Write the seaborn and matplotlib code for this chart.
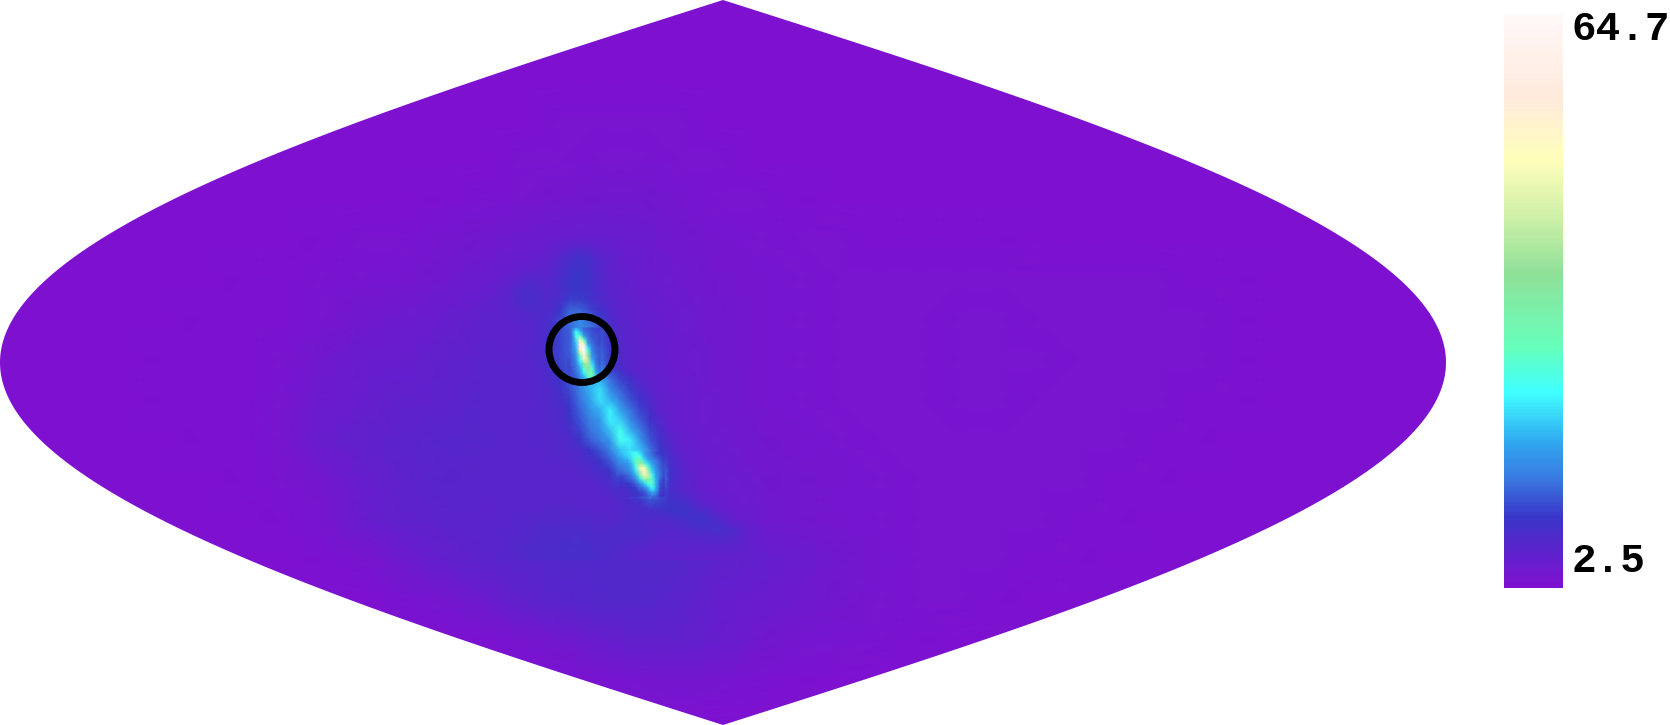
import numpy as np
import seaborn as sns
import matplotlib
matplotlib.use("Agg")
import matplotlib.pyplot as plt
from matplotlib.colors import LinearSegmentedColormap
from matplotlib.patches import Circle, PathPatch
from matplotlib.path import Path

W, H = 1670, 725
VMIN, VMAX = 0.0, 64.7
BG = 0.5
n = np.nan

# colour bar stops read from the strip on the right
cmap_stops = [0.0, 0.122, 0.188, 0.254, 0.34, 0.42, 0.55, 0.65, 0.75, 0.855, 1.0]
cmap_colors = ["#8010d0", "#3a35c8", "#3a78e0", "#30a8f0", "#40ffff", "#66ffbb",
               "#90e098", "#d0f0a8", "#ffffbb", "#ffeadc", "#fff8f8"]
tick_labels = ["64.7", "2.5"]

# whole sky, one node every 40 px
sky_rows = [
    [BG] * 38,
    [BG] * 38,
    [BG] * 38,
    [BG] * 14 + [.8, .9, .9, .8] + [BG] * 20,
    [BG] * 13 + [.8, 1, 1.2, 1.2, 1, .8] + [BG] * 19,
    [BG] * 11 + [.7, .9, 1.2, 1.6, 2, 1.8, 1.3, 1, .8, .7] + [BG] * 17,
    [BG] * 8 + [.7, .8, 1, 1.3, 1.8, 2.4, 3, 3.2, 2.6, 1.8, 1.3, 1.1, .9, .8, .7, .7, .7, .7] + [BG] * 12,
    [BG] * 6 + [.6, .7, .9, 1.2, 1.5, 2, 2.6, 3.2, 4, 4.5, 3.2, 2.2, 1.6, 1.3, 1.1, .9, .8, .8, .9, .9, .9, .9, .8, .8, .7, .7] + [BG] * 6,
    [BG] * 5 + [.6, .6, .7, 1.2, 1.9, 2.4, 3, 3.6, 4.5, 5, 3.6, 2.6, 2, 1.6, 1.3, 1.1, 1, .9, 1, 1.1, 1.1, 1, .9, .9, .8, .8, .7] + [BG] * 6,
    [BG] * 4 + [.6, .6, .7, .9, 2, 2.6, 3, 3.6, 4.2, 5, 5.5, 4.2, 2.8, 2.2, 1.7, 1.4, 1.2, 1, 1, 1, 1.1, 1.2, 1.1, 1, .9, .9, .8, .7] + [BG] * 6,
    [BG] * 4 + [.6, .6, .7, 1.2, 2.4, 3, 3.6, 4, 4.6, 5.5, 6, 4.6, 3, 2.4, 1.8, 1.5, 1.2, 1, 1, 1, 1.1, 1.1, 1, .9, .9, .8, .7, .6] + [BG] * 6,
    [BG] * 5 + [.6, .7, 1.2, 2.8, 3.6, 4.2, 4.6, 5, 5.5, 6, 5, 3.4, 2.6, 2, 1.6, 1.3, 1.1, 1, 1, 1, 1, .9, .9, .8, .7, .6] + [BG] * 7,
    [BG] * 6 + [.6, .9, 1.6, 3, 4, 4.6, 4.4, 5, 5.5, 6.5, 5.5, 3.6, 2.6, 2, 1.6, 1.3, 1.1, 1, 1, .9, .9, .8, .7, .6] + [BG] * 8,
    [BG] * 7 + [.7, 1.2, 2.6, 3.6, 4.2, 4.4, 4.4, 5.4, 6, 7, 5, 3, 2.2, 1.7, 1.3, 1.1, 1, .9, .9, .8, .7, .6] + [BG] * 9,
    [BG] * 8 + [.7, 1, 2.2, 3.4, 4.2, 4.6, 5.2, 5.5, 5.5, 5, 4, 3.4, 2.6, 1.8, 1.3, 1, .9, .8, .7, .6] + [BG] * 10,
    [BG] * 10 + [.8, 1.4, 2.4, 3.6, 4.6, 5.2, 5.2, 4.5, 3.2, 2.6, 2.2, 1.6, 1.1, .9, .8, .7] + [BG] * 12,
    [BG] * 12 + [.7, 1.2, 2, 3, 3.6, 3.6, 2.8, 1.8, 1.4, 1.1, .9, .7] + [BG] * 14,
    [BG] * 14 + [.7, 1, 1.4, 1.6, 1.4, 1, .7] + [BG] * 17,
    [BG] * 38,
    [BG] * 38,
]

# arc between the two bright spots, x 480-760, y 240-560, one node every 10 px
arc_rows = [
    [1.8, 2, 2.1, 2.2, 2.4, 2.5, 2.7, 2.8, 3, 3.1, 3.2, 3.1, 3, 2.8, 2.6, 2.5, 2.4, 2.2, 2, 1.9, 1.8, 1.7, 1.6, 1.5, 1.3, 1.3, 1.2, 1.2, 1.1],
    [2, 2.2, 2.4, 2.5, 2.6, 2.8, 3, 3.2, 4, 5, 5.5, 5, 4, 3.4, 3, 2.8, 2.6, 2.4, 2.2, 2, 1.9, 1.8, 1.7, 1.6, 1.4, 1.3, 1.3, 1.2, 1.1],
    [2.2, 2.4, 2.6, 2.8, 3, 3.2, 3.4, 3.8, 5, 6.4, 7, 6.4, 4.8, 3.8, 3.2, 3, 2.8, 2.5, 2.3, 2.1, 2, 1.9, 1.8, 1.6, 1.5, 1.4, 1.3, 1.3, 1.2],
    [2.3, 2.6, 2.8, 3, 3.4, 3.8, 4, 4.4, 5.6, 7, 7.6, 6.8, 5, 4, 3.4, 3.2, 2.9, 2.6, 2.4, 2.2, 2.1, 1.9, 1.8, 1.7, 1.5, 1.5, 1.4, 1.3, 1.2],
    [2.6, 2.8, 3.2, 3.6, 4.4, 5.2, 5, 4.8, 6, 7.6, 8, 7, 5.2, 4.2, 3.6, 3.3, 3, 2.8, 2.5, 2.3, 2.2, 2, 1.9, 1.8, 1.6, 1.6, 1.5, 1.4, 1.3],
    [3, 3.2, 3.6, 4.4, 5.6, 6, 5.4, 5, 6, 7.6, 8, 7, 5.4, 4.4, 3.8, 3.4, 3.2, 2.9, 2.6, 2.4, 2.3, 2.1, 2, 1.8, 1.7, 1.6, 1.5, 1.4, 1.4],
    [3.4, 3.6, 3.8, 4.4, 5.6, 6.2, 5.6, 5.2, 6.4, 8.5, 8.5, 7.4, 5.8, 4.6, 4, 3.6, 3.3, 3, 2.8, 2.5, 2.4, 2.2, 2.1, 1.9, 1.8, 1.7, 1.6, 1.5, 1.5],
    [3.6, 3.8, 4, 4.4, 5.2, 5.6, 5.4, 5.8, 8, 11, 11, 9, 7, 5.2, 4.2, 3.8, 3.4, 3.1, 2.9, 2.6, 2.4, 2.3, 2.1, 2, 1.8, 1.7, 1.6, 1.6, 1.5],
    [3.8, 4, 4, 4.2, 4.6, 5, 5.4, 6.5, 9, 12, 14, 11, 8.5, 6, 4.4, 4, 3.5, 3.2, 3, 2.7, 2.5, 2.3, 2.2, 2, 1.9, 1.8, 1.7, 1.6, 1.5],
    [4, 4, 4, 4, 4.2, 4.6, 5.2, 7, 9, 11, 14, 13, 10, 7, 5, 4, 3.6, 3.3, 3, 2.8, 2.5, 2.4, 2.2, 2, 1.9, 1.8, 1.7, 1.6, 1.5],
    [4.2, 4.2, 4, 4, 4.4, 4.8, 5.4, 7, 9, 11, 15, 14, 10, 7, 5, 4.2, 3.7, 3.4, 3, 2.8, 2.6, 2.4, 2.2, 2.1, 1.9, 1.8, 1.7, 1.6, 1.4],
    [4.4, 4.4, 4.2, 4.2, 4.4, 5, 5.5, 7, 9, 11, 15, 16, 11, 8, 5.2, 4.4, 3.8, 3.4, 3.2, 2.9, 2.6, 2.4, 2.3, 2.1, 2, 1.8, 1.7, 1.6, 1.4],
    [4.6, 4.4, 4.2, 4.2, 4.4, 5, 5.5, 7, 9, 10.5, 14, 18, 12, 8, 5.4, 4.4, 3.9, 3.5, 3.2, 2.9, 2.7, 2.5, 2.3, 2.1, 2, 1.9, 1.7, 1.6, 1.4],
    [4.6, 4.4, 4.4, 4.4, 4.6, 4.8, 5.2, 6.5, 8.5, 10, 13, 19, 14, 9, 6.5, 4.8, 4, 3.6, 3.3, 3, 2.7, 2.5, 2.3, 2.2, 2, 1.9, 1.8, 1.6, 1.5],
    [4.6, 4.6, 4.4, 4.4, 4.6, 4.8, 5, 6, 8, 10, 13, 18, 17, 12, 9, 7, 5, 3.8, 3.4, 3, 2.8, 2.6, 2.4, 2.2, 2, 1.9, 1.8, 1.7, 1.5],
    [4.6, 4.6, 4.4, 4.4, 4.6, 4.8, 5, 5.5, 7, 9.5, 13, 17, 20, 14, 11, 8.5, 6, 4.4, 3.5, 3.1, 2.8, 2.6, 2.4, 2.2, 2.1, 2, 1.8, 1.7, 1.5],
    [4.6, 4.6, 4.4, 4.4, 4.4, 4.6, 5, 5.2, 6.5, 8.5, 12, 16, 20, 17, 13, 10, 7.5, 5.4, 3.6, 3.2, 2.9, 2.7, 2.4, 2.3, 2.1, 2, 1.8, 1.7, 1.5],
    [4.8, 4.6, 4.6, 4.4, 4.4, 4.6, 4.8, 5.2, 5.8, 8, 11, 14.5, 17, 21, 16, 12, 9, 6.2, 4, 3.3, 3, 2.7, 2.5, 2.3, 2.1, 2, 1.9, 1.7, 1.6],
    [4.8, 4.8, 4.6, 4.4, 4.4, 4.6, 4.8, 5.2, 5.6, 7.5, 10, 13, 15, 21, 19, 14, 10.5, 7.5, 5.2, 3.4, 3, 2.7, 2.5, 2.3, 2.2, 2, 1.9, 1.8, 1.6],
    [4.8, 4.8, 4.6, 4.4, 4.4, 4.6, 4.8, 5, 5.4, 6.5, 9, 12, 14, 18, 23, 17, 12.5, 9, 6, 3.6, 3.1, 2.8, 2.6, 2.4, 2.2, 2.1, 1.9, 1.8, 1.7],
    [5, 4.8, 4.8, 4.6, 4.6, 4.8, 5, 5, 5.2, 5.8, 8, 10.5, 12.5, 15, 23, 21, 15, 10, 7, 5, 3.4, 3, 2.7, 2.5, 2.3, 2.1, 2, 1.9, 1.8],
    [4.8, 4.6, 4.6, 4.4, 4.4, 4.6, 4.8, 5, 5.2, 5.2, 6, 8, 10, 13, 18, 20, 18, 12, 8, 5.5, 3.8, 3.2, 2.9, 2.6, 2.4, 2.2, 2.1, 2, 1.9],
    [4.6, 4.4, 4.4, 4.4, 4.4, 4.4, 4.6, 4.8, 5, 5, 5.4, 6.5, 8, 10.5, 15, 22, 26, 16, 10, 6.5, 4.4, 3.4, 3, 2.7, 2.5, 2.3, 2.1, 2, 1.9],
    [4.4, 4.4, 4.4, 4.4, 4.4, 4.4, 4.4, 4.6, 4.8, 4.8, 5, 5.4, 6.5, 8, 12, 20, 30, 25, 13, 7.5, 5, 3.6, 3.1, 2.8, 2.6, 2.4, 2.2, 2.1, 2],
    [4.4, 4.4, 4.4, 4.4, 4.4, 4.4, 4.4, 4.4, 4.6, 4.6, 4.6, 4.8, 5.5, 6.5, 9, 13, 20, 24, 14, 7, 5, 3.8, 3.2, 2.9, 2.6, 2.4, 2.3, 2.2, 2.1],
    [4.4, 4.4, 4.4, 4.4, 4.4, 4.4, 4.4, 4.6, 4.6, 4.6, 4.6, 4.6, 4.8, 5.5, 7, 9, 12, 18, 10, 6.5, 5, 4, 3.4, 3, 2.7, 2.5, 2.4, 2.3, 2.2],
    [4.2, 4.2, 4.4, 4.4, 4.4, 4.6, 4.6, 4.8, 4.8, 4.8, 4.6, 4.6, 4.6, 4.8, 5.5, 6, 7.5, 10, 9, 7.5, 6.5, 5.5, 3.8, 3.2, 2.9, 2.6, 2.5, 2.4, 2.4],
    [4.2, 4.2, 4.4, 4.6, 4.6, 4.8, 4.8, 5, 5, 5, 5, 4.8, 4.6, 4.8, 5, 5.5, 6, 6.5, 7, 7.5, 8, 7, 6, 5, 3.4, 2.8, 2.6, 2.6, 2.6],
    [4.2, 4.4, 4.6, 4.6, 4.8, 5, 5.2, 5.2, 5.2, 5.4, 5.4, 5.2, 5, 5, 5.2, 5.6, 5.6, 5.2, 5.2, 5.6, 6.5, 7, 7.5, 6.5, 5.5, 3.6, 2.8, 2.8, 2.8],
    [4.4, 4.6, 4.8, 4.8, 5, 5.2, 5.4, 5.6, 5.6, 5.8, 6, 5.8, 5.4, 5.4, 5.8, 6, 5.8, 5.4, 5, 4.8, 5, 5.4, 6, 6.5, 6.5, 6, 5, 3.4, 3],
    [4.4, 4.6, 4.8, 5, 5.2, 5.4, 5.6, 5.8, 6, 6.2, 6.2, 6, 5.8, 5.6, 5.8, 5.8, 5.6, 5, 4.6, 4.4, 4.6, 4.6, 4.6, 4.8, 5, 5, 4.4, 3.4, 3.2],
    [4.4, 4.6, 4.8, 5, 5.2, 5.6, 5.8, 6, 6.2, 6.4, 6.4, 6.2, 6, 5.6, 5.2, 4.8, 4.4, 4.2, 4, 4, 4.2, 4.2, 4.2, 4, 4, 3.8, 3.6, 3.4, 3.4],
    [4.2, 4.4, 4.6, 4.8, 5, 5.4, 5.6, 5.8, 6, 6.2, 6.5, 6.2, 5.8, 5.5, 5.2, 5, 4.4, 4.2, 4, 3.8, 3.6, 3.5, 3.4, 3.4, 3.4, 3.4, 3.4, 3.4, 3.4],
]

# first bright spot, x 564-604, y 324-384, one node every 4 px, empty nodes fade out
spot1_rows = [
    [n] * 11,
    [n, 10, 12, 16, 13, 11, 10, 9, 9, 8, n],
    [n, 10, 13, 22, 18, 12, 11, 10, 9, 9, n],
    [n, 10, 12, 24, 26, 15, 12, 10, 10, 9, n],
    [n, 10, 12, 20, 46, 26, 13, 11, 10, 9, n],
    [n, 10, 12, 18, 60, 46, 16, 12, 10, 9, n],
    [n, 10, 12, 17, 56, 64, 20, 13, 11, 10, n],
    [n, 10, 12, 16, 44, 64, 28, 14, 11, 10, n],
    [n, 10, 11, 15, 30, 60, 36, 15, 12, 10, n],
    [n, 9, 11, 14, 22, 46, 40, 17, 12, 10, n],
    [n, 9, 11, 13, 19, 32, 38, 20, 13, 10, n],
    [n, 9, 10, 12, 17, 26, 36, 24, 14, 11, n],
    [n, 9, 10, 12, 15, 22, 32, 28, 16, 11, n],
    [n, 9, 10, 11, 14, 18, 26, 30, 18, 12, n],
    [n, 9, 10, 11, 13, 16, 20, 26, 19, 12, n],
    [n] * 11,
]

# second bright spot, x 616-668, y 448-500, one node every 4 px, empty nodes fade out
spot2_rows = [
    [n] * 14,
    [n, 18, 19, 20, 21, 22, 19, 16, 13, 11, 9, 8, 7, n],
    [n, 16, 18, 19, 21, 25, 22, 17, 14, 12, 10, 9, 8, n],
    [n, 15, 16, 17, 20, 27, 28, 20, 16, 14, 12, 10, 8, n],
    [n, 13, 14, 15, 18, 26, 38, 30, 20, 16, 13, 11, 9, n],
    [n, 12, 13, 14, 17, 24, 46, 48, 28, 18, 14, 11, 9, n],
    [n, 11, 12, 13, 15, 20, 40, 54, 40, 20, 15, 12, 9, n],
    [n, 9, 10, 11, 13, 17, 28, 44, 42, 24, 16, 12, 9, n],
    [n, 8, 9, 10, 11, 14, 19, 28, 32, 26, 17, 11, 8, n],
    [n, 7, 7.5, 8, 9, 11, 14, 18, 24, 26, 17, 10, 8, n],
    [n, 6, 6.5, 7, 8, 9, 11, 13, 17, 22, 17, 10, 7, n],
    [n, 5.5, 6, 6.5, 7, 8, 9, 10, 13, 17, 15, 9, 7, n],
    [n, 5.5, 6, 6, 7, 7.5, 8, 9, 10, 12, 11, 8, 7, n],
    [n] * 14,
]

sns.set_theme(style="white")
plt.rcParams["font.family"] = ["Liberation Mono", "DejaVu Sans Mono"]
cmap = LinearSegmentedColormap.from_list("sky", list(zip(cmap_stops, cmap_colors)))
cmap.set_bad((0.23, 0.47, 0.88, 0.0))

fig = plt.figure(figsize=(W / 100, H / 100), dpi=100, facecolor="white")


# Function to draw one grid of nodes at a pixel position, shaded smoothly between nodes
def draw_field(rows, x0, y0, step, **kwargs):
    grid = np.array(rows, dtype=float)
    nrow, ncol = grid.shape
    ax = fig.add_axes([x0 / W, 1 - (y0 + (nrow - 1) * step) / H,
                       (ncol - 1) * step / W, (nrow - 1) * step / H])
    sns.heatmap(grid, ax=ax, cmap=cmap, vmin=VMIN, vmax=VMAX, shading="gouraud",
                xticklabels=False, yticklabels=False, **kwargs)
    ax.set_xlim(0, ncol - 1)
    ax.set_ylim(nrow - 1, 0)
    ax.patch.set_alpha(0)
    ax.set_axis_off()
    return ax


# bar on the right, filled by the colour bar of the sky heatmap
cax = fig.add_axes([1504 / W, 1 - 588 / H, 59 / W, 573 / H])
draw_field(sky_rows, 0, 0, 40, cbar_ax=cax, cbar_kws={"ticks": [], "drawedges": False})
cax.set_axis_off()
draw_field(arc_rows, 480, 240, 10, cbar=False)
draw_field(spot1_rows, 564, 324, 4, cbar=False)
draw_field(spot2_rows, 616, 448, 4, cbar=False)

ax_top = fig.add_axes([0, 0, 1, 1])
ax_top.set_xlim(0, W)
ax_top.set_ylim(H, 0)
ax_top.set_axis_off()

# white mask outside the sinusoidal outline of the sky
lat = np.linspace(-np.pi / 2, np.pi / 2, 361)
half_w = 723 * np.cos(lat)
ys = 362.5 + lat / (np.pi / 2) * 362.5
outline = np.r_[np.c_[723 - half_w, ys], np.c_[723 + half_w, ys][::-1]]
box = np.array([[-5, -5], [1490, -5], [1490, H + 5], [-5, H + 5], [-5, -5]])
verts = np.r_[box, outline, outline[:1]]
codes = [Path.MOVETO] + [Path.LINETO] * 3 + [Path.CLOSEPOLY] + [Path.MOVETO] + [Path.LINETO] * (len(outline) - 1) + [Path.CLOSEPOLY]
ax_top.add_patch(PathPatch(Path(verts, codes), fc="white", ec="none", lw=0))

# source marker
ax_top.add_patch(Circle((582, 349.5), 33, fc="none", ec="black", lw=5))

ax_top.text(1571, 29, tick_labels[0], fontsize=29.5, fontweight="bold", color="black",
            ha="left", va="center", clip_on=False)
ax_top.text(1571, 561, tick_labels[1], fontsize=29.5, fontweight="bold", color="black",
            ha="left", va="center", clip_on=False)

fig.savefig("out.png", dpi=100, facecolor="white")
